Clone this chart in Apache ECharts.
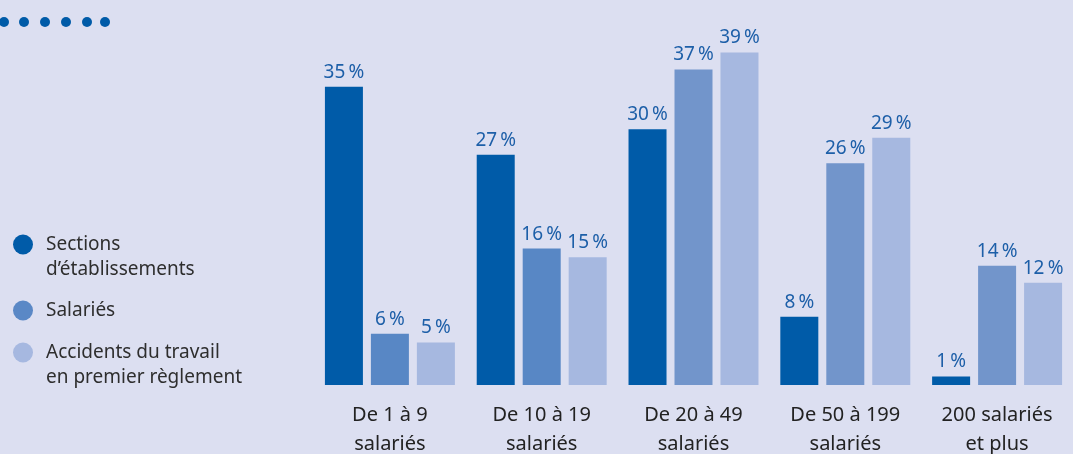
<!DOCTYPE html>
<html>
<head>
<meta charset="utf-8">
<script src="https://cdn.jsdelivr.net/npm/echarts@6/dist/echarts.min.js"></script>
<style>
  html, body { margin: 0; padding: 0; background: #dcdff1; }
  #main { width: 1073px; height: 454px; }
</style>
</head>
<body>
<div id="main"></div>
<script>
var chartDom = document.getElementById('main');
var myChart = echarts.init(chartDom);
var option;

// categories (taille d'établissement)
const categories = ['De 1 à 9\nsalariés', 'De 10 à 19\nsalariés', 'De 20 à 49\nsalariés', 'De 50 à 199\nsalariés', '200 salariés\net plus'];
const seriesNames = ['Sections\nd\u2019établissements', 'Salariés', 'Accidents du travail\nen premier règlement'];
const sections = [35, 27, 30, 8, 1];
const salaries = [6, 16, 37, 26, 14];
const accidents = [5, 15, 39, 29, 12];

const font = '"Noto Sans", sans-serif';
const labelStyle = {
  show: true,
  position: 'top',
  distance: 5,
  color: '#1d5fa8',
  fontSize: 19,
  fontFamily: font,
  formatter: p => p.value + '\u202f%'
};

// one legend per item so each can sit where the original puts it
function legendAt(name, top, color, twoLines) {
  return {
    data: [{ name: name, itemStyle: { color: color } }],
    left: 13,
    top: top,
    padding: 0,
    icon: 'circle',
    itemWidth: 36,
    itemHeight: 20,
    selectedMode: false,
    // blank first line keeps the dot level with the first text line
    formatter: n => (twoLines ? ' \n' + n : n),
    textStyle: {
      color: '#2e2e2e',
      fontSize: 19,
      fontFamily: font,
      lineHeight: 25
    }
  };
}

const dots = [4, 24, 45, 66, 87, 105].map(x => ({
  type: 'circle',
  shape: { cx: x, cy: 22, r: 5 },
  style: { fill: '#005ba8' }
}));

option = {
  backgroundColor: '#dcdff1',
  animation: false,
  color: ['#005ba8', '#5a88c6', '#a6b8e0'],
  graphic: dots,
  legend: [
    legendAt(seriesNames[0], 207, '#005ba8', true),
    legendAt(seriesNames[1], 298, '#5a88c6', false),
    legendAt(seriesNames[2], 315, '#a6b8e0', true)
  ],
  grid: {
    left: 314,
    right: 0,
    top: 44,
    bottom: 69,
    outerBoundsMode: 'none'
  },
  xAxis: {
    type: 'category',
    data: categories,
    axisLine: { show: false },
    axisTick: { show: false },
    axisLabel: {
      color: '#222',
      fontSize: 20,
      fontFamily: font,
      lineHeight: 29,
      margin: 16,
      interval: 0
    }
  },
  yAxis: {
    type: 'value',
    min: 0,
    max: 40,
    show: false
  },
  series: [
    {
      name: seriesNames[0],
      type: 'bar',
      data: sections,
      barWidth: 38,
      barGap: '21%',
      itemStyle: { color: '#005ba8' },
      label: labelStyle
    },
    {
      name: seriesNames[1],
      type: 'bar',
      data: salaries,
      barWidth: 38,
      barGap: '21%',
      itemStyle: { color: p => (p.dataIndex < 2 ? '#5887c5' : '#7295cb') },
      label: labelStyle
    },
    {
      name: seriesNames[2],
      type: 'bar',
      data: accidents,
      barWidth: 38,
      barGap: '21%',
      itemStyle: { color: '#a6b8e0' },
      label: labelStyle
    }
  ]
};

option && myChart.setOption(option);

window.onresize = function() {
  myChart.resize();
};
</script>
</body>
</html>
